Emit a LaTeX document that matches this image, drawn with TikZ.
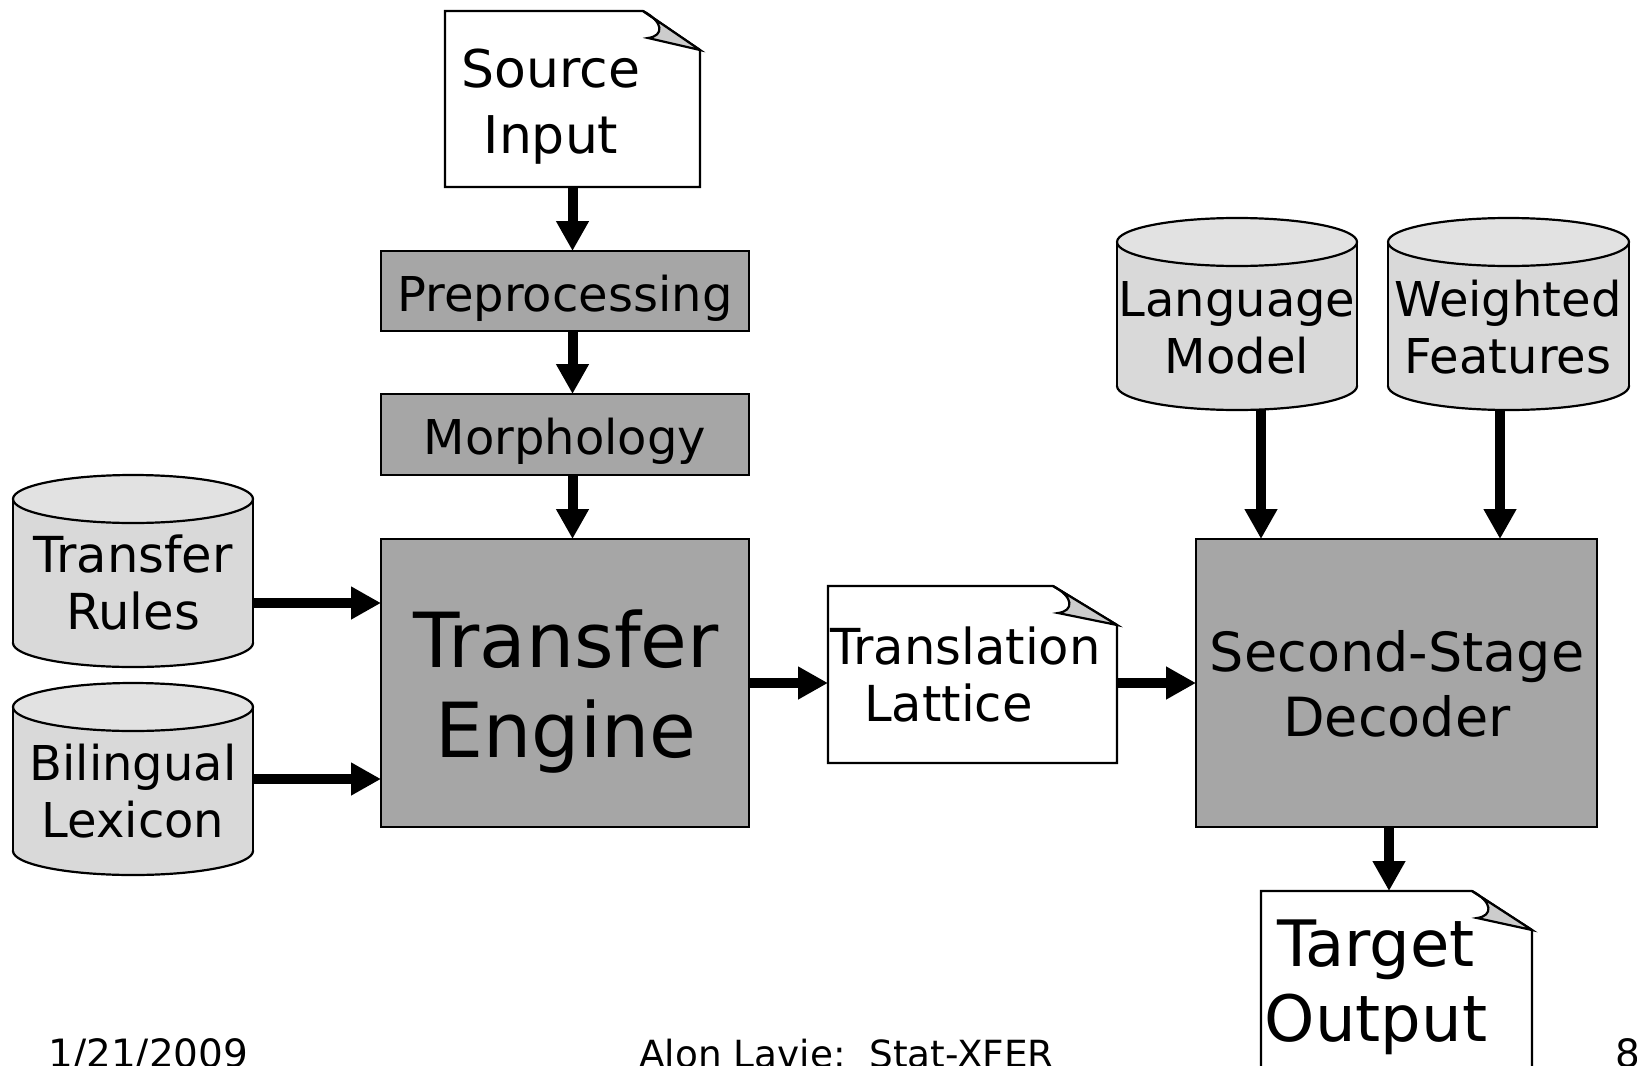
\documentclass[tikz,border=0pt]{standalone}
\usepackage{fontspec}
\setmainfont{DejaVu Sans}
\usetikzlibrary{arrows.meta,calc}

\definecolor{procfill}{HTML}{A6A6A6}
\definecolor{cylside}{HTML}{D9D9D9}
\definecolor{cyltop}{HTML}{E2E2E2}
\definecolor{flapfill}{HTML}{CCCCCC}

% two centred lines whose reference point is the first baseline
\newcommand{\twoline}[2]{\begin{tabular}[t]{@{}c@{}}#1\\#2\end{tabular}}

% page with a curled top-right corner: name, x1, y1, x2, y2, fold width
\newcommand{\docpage}[6]{%
  \node[hook, minimum width={(#4-#2)*0.5pt}, minimum height={(#5-#3)*0.5pt}]
    (#1) at ({(#2+#4)/2},{(#3+#5)/2}) {};
  \filldraw[outline, fill=white] (#2,#3) -- ({#4-#6},#3) -- (#4,{#3+39})
    -- (#4,#5) -- (#2,#5) -- cycle;
  \filldraw[outline, fill=flapfill] ({#4-#6},#3)
    .. controls ({#4-#6+21},{#3+11}) and ({#4-#6+21},{#3+25}) .. ({#4-#6+5},{#3+27})
    -- (#4,{#3+39}) -- cycle;
}

% database drum: name, x1, y1, x2, y2
\newcommand{\dbdrum}[5]{%
  \node[hook, minimum width={(#4-#2)*0.5pt}, minimum height={(#5-#3)*0.5pt}]
    (#1) at ({(#2+#4)/2},{(#3+#5)/2}) {};
  \filldraw[outline, fill=cylside] ({(#2+#4)/2},{#5-24})
    ellipse [x radius={(#4-#2)/2}, y radius=24];
  \fill[cylside] (#2,{#3+24}) rectangle (#4,{#5-24});
  \draw[outline] (#2,{#3+24}) -- (#2,{#5-24}) (#4,{#3+24}) -- (#4,{#5-24});
  \filldraw[outline, fill=cyltop] ({(#2+#4)/2},{#3+24})
    ellipse [x radius={(#4-#2)/2}, y radius=24];
}

\tikzset{
  outline/.style={draw=black, line width=1.1pt, line join=miter},
  hook/.style={rectangle, inner sep=0pt, outer sep=0pt},
  procbox/.style={rectangle, draw=black, line width=1.1pt, fill=procfill,
    inner sep=0pt, outer sep=0pt},
  lbl/.style={anchor=base, inner sep=0pt, outer sep=0pt},
  small/.style={font=\fontsize{24}{28.5}\selectfont},
  smallplus/.style={font=\fontsize{24.8}{28.5}\selectfont},
  foot/.style={anchor=base west, inner sep=0pt},
  flow/.style={line width=5pt,
    -{Triangle[width=15.5pt, length=15pt]}},
}

\begin{document}
\begin{tikzpicture}[x=0.5pt, y=-0.5pt]
  \useasboundingbox (0,0) rectangle (1637,1065);
  \clip (0,0) rectangle (1637,1065);
  \fill[white] (0,0) rectangle (1637,1065);

  % ---- left column: preparation and transfer ----
  \docpage{src}{445}{11}{700}{187}{57}
  \node[lbl, font=\fontsize{26}{33}\selectfont] (srclbl) at (551,88)
    {\twoline{Source}{Input}};

  \node[procbox, minimum width=184pt, minimum height=40pt] (pre) at (565,291) {};
  \node[lbl, small] (prelbl) at (565,311) {Preprocessing};

  \node[procbox, minimum width=184pt, minimum height=40.5pt] (mor) at (565,434.5) {};
  \node[lbl, small] (morlbl) at (565,454) {Morphology};

  \node[procbox, minimum width=184pt, minimum height=144pt] (te) at (565,683) {};
  \node[lbl, font=\fontsize{38}{45}\selectfont] (telbl) at (566,667)
    {\twoline{Transfer}{Engine}};

  \dbdrum{tr}{13}{475}{253}{667}
  \node[lbl, smallplus] (trlbl) at (133,572) {\twoline{Transfer}{Rules}};

  \dbdrum{bl}{13}{683}{253}{875}
  \node[lbl, small] (bllbl) at (133,780) {\twoline{Bilingual}{Lexicon}};

  % ---- middle: lattice ----
  \docpage{lat}{828}{586}{1117}{763}{64}
  \node[lbl, smallplus] (latlbl) at (965.5,664)
    {\twoline{Translation}{Lattice\hspace*{17pt}}};

  % ---- right column: decoding ----
  \dbdrum{lm}{1117}{218}{1357}{410}
  \node[lbl, small] (lmlbl) at (1237,316) {\twoline{Language}{Model}};

  \dbdrum{wf}{1388}{218}{1629}{410}
  \node[lbl, small] (wflbl) at (1508,316) {\twoline{Weighted}{Features}};

  \node[procbox, minimum width=200.5pt, minimum height=144pt] (dec) at (1396.5,683) {};
  \node[lbl, font=\fontsize{27}{32.5}\selectfont] (declbl) at (1397,671)
    {\twoline{Second-Stage}{Decoder}};

  \docpage{tgt}{1261}{891}{1532}{1120}{60}
  \node[lbl, font=\fontsize{32}{37.5}\selectfont] (tgtlbl) at (1376,966)
    {\twoline{Target}{Output}};

  % ---- connectors ----
  \draw[flow] (src.south) -- (src.south |- pre.north);
  \draw[flow] (src.south |- pre.south) -- (src.south |- mor.north);
  \draw[flow] (src.south |- mor.south) -- (src.south |- te.north);
  \draw[flow] ([yshift=-16pt]tr.east) -- ([yshift=-16pt]tr.east -| te.west);
  \draw[flow] (bl.east) -- (bl.east -| te.west);
  \draw[flow] (te.east) -- (te.east -| lat.west);
  \draw[flow] (lat.east |- dec.west) -- (dec.west);
  \draw[flow] ([xshift=12pt]lm.south) -- ([xshift=12pt]lm.south |- dec.north);
  \draw[flow] ([xshift=-4.25pt]wf.south) -- ([xshift=-4.25pt]wf.south |- dec.north);
  \draw[flow] ([xshift=-3.75pt]dec.south) -- ([xshift=-3.75pt]dec.south |- tgt.north);

  % ---- slide footer ----
  \node[foot, font=\fontsize{19.5}{22}\selectfont] (date) at (48,1067) {1/21/2009};
  \node[foot, font=\fontsize{18.7}{22}\selectfont] (author) at (639,1067)
    {Alon Lavie:\ \ Stat-XFER};
  \node[foot, font=\fontsize{19.5}{22}\selectfont] (page) at (1615,1067) {8};
\end{tikzpicture}
\end{document}
